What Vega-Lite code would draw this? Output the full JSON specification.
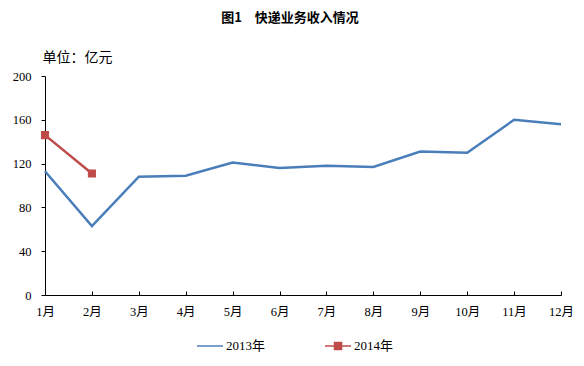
{
  "$schema": "https://vega.github.io/schema/vega-lite/v6.json",
  "width": 516,
  "height": 219,
  "autosize": {"type": "none"},
  "padding": {"left": 45, "top": 76, "right": 23, "bottom": 71},
  "background": "white",
  "title": {
    "text": "图1　快递业务收入情况",
    "font": "Noto Sans CJK SC",
    "fontSize": 13,
    "fontWeight": "bold",
    "color": "black",
    "anchor": "middle",
    "dx": -13,
    "offset": 25
  },
  "config": {
    "view": {"stroke": null},
    "axis": {
      "labelFont": "Liberation Serif, Noto Sans CJK SC",
      "labelFontSize": 12.5,
      "labelColor": "black",
      "domainColor": "black",
      "tickColor": "black",
      "grid": false
    },
    "legend": {
      "title": null,
      "orient": "none",
      "legendX": 151,
      "legendY": 256,
      "direction": "horizontal",
      "labelFont": "Liberation Serif, Noto Sans CJK SC",
      "labelFontSize": 13,
      "labelColor": "black",
      "symbolSize": 676,
      "columnPadding": 56,
      "symbolOffset": 0,
      "labelOffset": 2
    }
  },
  "data": {
    "values": [
      {"month": "1月", "series": "2013年", "value": 113},
      {"month": "2月", "series": "2013年", "value": 63},
      {"month": "3月", "series": "2013年", "value": 108},
      {"month": "4月", "series": "2013年", "value": 109},
      {"month": "5月", "series": "2013年", "value": 121},
      {"month": "6月", "series": "2013年", "value": 116},
      {"month": "7月", "series": "2013年", "value": 118},
      {"month": "8月", "series": "2013年", "value": 117},
      {"month": "9月", "series": "2013年", "value": 131},
      {"month": "10月", "series": "2013年", "value": 130},
      {"month": "11月", "series": "2013年", "value": 160},
      {"month": "12月", "series": "2013年", "value": 156},
      {"month": "1月", "series": "2014年", "value": 146},
      {"month": "2月", "series": "2014年", "value": 111}
    ]
  },
  "encoding": {
    "x": {
      "field": "month",
      "type": "ordinal",
      "scale": {
        "type": "point",
        "padding": 0,
        "domain": ["1月", "2月", "3月", "4月", "5月", "6月", "7月", "8月", "9月", "10月", "11月", "12月"]
      },
      "axis": {
        "title": null,
        "labelAngle": 0,
        "tickSize": -4,
        "labelPadding": 14,
        "domainWidth": 1,
        "tickWidth": 1
      }
    },
    "y": {
      "field": "value",
      "type": "quantitative",
      "scale": {"domain": [0, 200], "nice": false},
      "axis": {
        "values": [0, 40, 80, 120, 160, 200],
        "title": "单位：亿元",
        "titleAngle": 0,
        "titleAlign": "left",
        "titleBaseline": "middle",
        "titleX": -3,
        "titleY": -19,
        "titleFont": "Noto Sans CJK SC",
        "titleFontSize": 14,
        "titleFontWeight": "normal",
        "titleColor": "black",
        "tickSize": 4,
        "labelPadding": 10
      }
    },
    "color": {
      "field": "series",
      "type": "nominal",
      "scale": {"domain": ["2013年", "2014年"], "range": ["#4A7EBB", "#BE4B48"]}
    }
  },
  "layer": [
    {
      "mark": {"type": "line", "strokeWidth": 2.5},
      "encoding": {}
    },
    {
      "mark": {"type": "point", "filled": true, "opacity": 1, "size": 900, "strokeWidth": 2.5},
      "encoding": {
        "shape": {
          "field": "series",
          "type": "nominal",
          "scale": {
            "domain": ["2013年", "2014年"],
            "range": ["M-1,0H1", "M-1,0H1M-0.27,-0.27H0.27V0.27H-0.27Z"]
          },
          "legend": {
            "encode": {
              "symbols": {
                "update": {
                  "stroke": {"scale": "color", "field": "value"},
                  "strokeWidth": {"value": 2.5}
                }
              }
            }
          }
        }
      }
    }
  ]
}
